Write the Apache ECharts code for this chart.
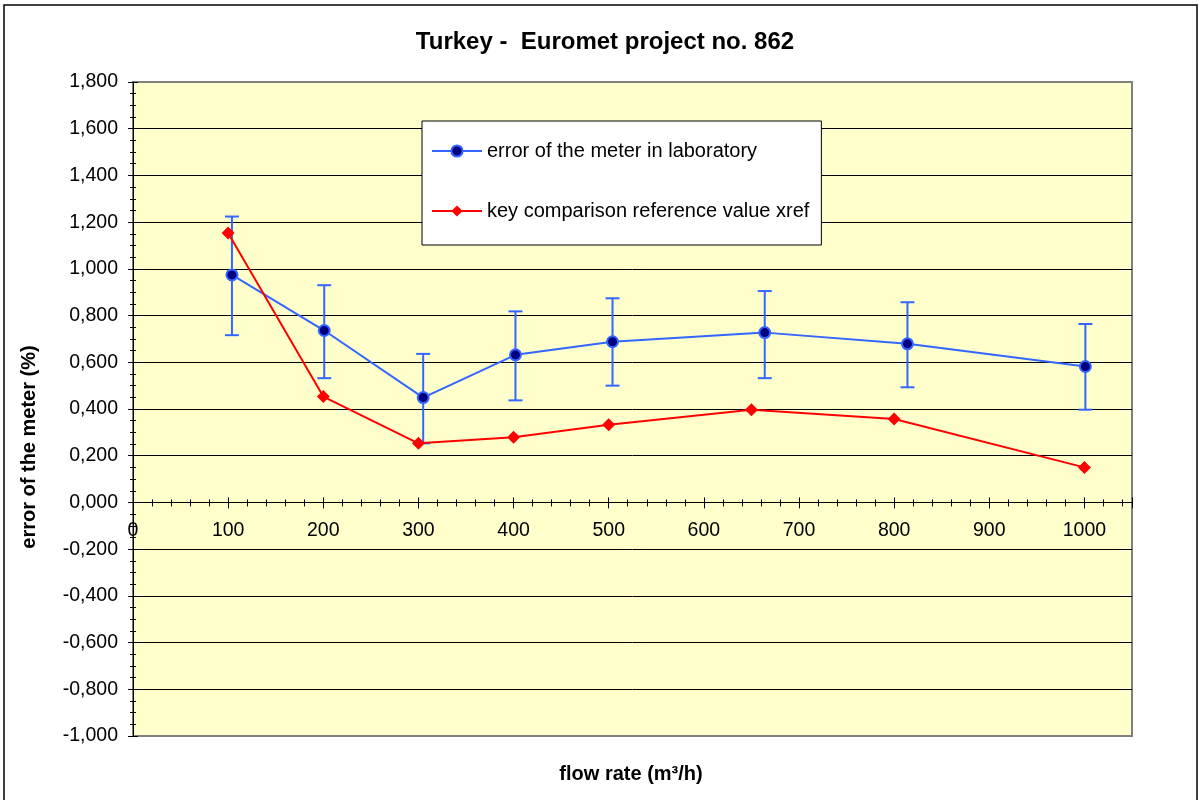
<!DOCTYPE html>
<html>
<head>
<meta charset="utf-8">
<title>Turkey - Euromet project no. 862</title>
<script src="https://cdn.jsdelivr.net/npm/echarts@6/dist/echarts.min.js"></script>
<style>
  html, body { margin: 0; padding: 0; background: #fff; }
  #chart { width: 1199px; height: 800px; }
</style>
</head>
<body>
<div id="chart"></div>
<script>
// flow rate (m3/h) and errors (%)
var labFlow = [104, 201, 305, 402, 504, 664, 814, 1001];
var labError = [0.974, 0.736, 0.449, 0.632, 0.688, 0.727, 0.679, 0.582];
var labHigh = [1.224, 0.930, 0.636, 0.818, 0.874, 0.905, 0.857, 0.764];
var labLow = [0.716, 0.532, 0.253, 0.437, 0.500, 0.532, 0.493, 0.397];

var refFlow = [100, 200, 300, 400, 500, 650, 800, 1000];
var refValue = [1.154, 0.453, 0.253, 0.279, 0.333, 0.397, 0.357, 0.150];

var seriesNames = ['error of the meter in laboratory', 'key comparison reference value xref'];

var font = 'Liberation Sans, Arial, sans-serif';
var blue = '#3366FF';
var red = '#FF0000';

var yMin = -1, yMax = 1.8;
var gridTop = 82, gridHeight = 654;
// the x axis sits on y = 0, not on the bottom of the plot
var zeroOffset = -gridHeight * (0 - yMin) / (yMax - yMin);

var labPoints = labFlow.map(function (x, i) { return [x, labError[i]]; });
var refPoints = refFlow.map(function (x, i) { return [x, refValue[i]]; });
var barPoints = labFlow.map(function (x, i) { return [x, labLow[i], labHigh[i]]; });

// error bars with caps
function renderErrorBar(params, api) {
  var x = api.value(0);
  var lo = api.coord([x, api.value(1)]);
  var hi = api.coord([x, api.value(2)]);
  var cap = 7;
  var style = { stroke: blue, lineWidth: 2 };
  return {
    type: 'group',
    children: [
      { type: 'line', shape: { x1: hi[0], y1: hi[1], x2: lo[0], y2: lo[1] }, style: style },
      { type: 'line', shape: { x1: hi[0] - cap, y1: hi[1], x2: hi[0] + cap, y2: hi[1] }, style: style },
      { type: 'line', shape: { x1: lo[0] - cap, y1: lo[1], x2: lo[0] + cap, y2: lo[1] }, style: style }
    ]
  };
}

function commaLabel(v) {
  return v.toFixed(3).replace('.', ',');
}

var chart = echarts.init(document.getElementById('chart'));

// two axes per direction so the ticks cross the axis line like in Excel
var xBase = { type: 'value', min: 0, max: 1050, interval: 100, position: 'bottom', offset: zeroOffset };
var yBase = { type: 'value', min: yMin, max: yMax, interval: 0.2, position: 'left' };

chart.setOption({
  animation: false,
  textStyle: { fontFamily: font, color: '#000' },
  title: {
    text: 'Turkey -  Euromet project no. 862',
    left: 600,
    top: 37,
    textAlign: 'center',
    textVerticalAlign: 'middle',
    textStyle: { fontFamily: font, fontSize: 24, fontWeight: 'bold', color: '#000' }
  },
  grid: {
    left: 133,
    top: gridTop,
    width: 999,
    height: gridHeight,
    show: true,
    backgroundColor: '#FFFFCC',
    borderColor: '#808080',
    borderWidth: 2,
    outerBoundsMode: 'none'
  },
  legend: {
    data: seriesNames,
    orient: 'vertical',
    left: 422,
    top: 121,
    padding: [20, 12, 24, 9],
    itemGap: 40,
    itemWidth: 50,
    itemHeight: 14,
    backgroundColor: '#fff',
    borderColor: '#000',
    borderWidth: 1,
    borderRadius: 0,
    textStyle: { fontFamily: font, fontSize: 20, color: '#000' }
  },
  xAxis: [
    Object.assign({}, xBase, {
      axisLine: { show: true, onZero: false, lineStyle: { color: '#000', width: 1 } },
      axisTick: { show: true, length: 6, lineStyle: { color: '#000' } },
      minorTick: { show: true, splitNumber: 5, length: 4, lineStyle: { color: '#000' } },
      axisLabel: { fontSize: 19.5, color: '#000', margin: 18, showMaxLabel: false, formatter: function (v) { return String(v); } },
      splitLine: { show: false }
    }),
    Object.assign({}, xBase, {
      axisLine: { show: false, onZero: false },
      axisTick: { show: true, inside: true, length: 5, lineStyle: { color: '#000' } },
      minorTick: { show: true, splitNumber: 5, length: 3, lineStyle: { color: '#000' } },
      axisLabel: { show: false },
      splitLine: { show: false }
    })
  ],
  yAxis: [
    Object.assign({}, yBase, {
      axisLine: { show: true, onZero: false, lineStyle: { color: '#000', width: 1 } },
      axisTick: { show: true, length: 5, lineStyle: { color: '#000' } },
      minorTick: { show: true, splitNumber: 4, length: 3, lineStyle: { color: '#000' } },
      axisLabel: { fontSize: 19.5, color: '#000', margin: 15, formatter: commaLabel },
      splitLine: { show: true, showMinLine: false, showMaxLine: false, lineStyle: { color: '#000', width: 1 } }
    }),
    Object.assign({}, yBase, {
      axisLine: { show: false, onZero: false },
      axisTick: { show: true, inside: true, length: 5, lineStyle: { color: '#000' } },
      minorTick: { show: true, splitNumber: 4, length: 3, lineStyle: { color: '#000' } },
      axisLabel: { show: false },
      splitLine: { show: false }
    })
  ],
  graphic: [
    {
      type: 'rect',
      shape: { x: 4, y: 5, width: 1193, height: 805 },
      style: { fill: 'none', stroke: '#000', lineWidth: 1.5 },
      silent: true
    },
    {
      type: 'text',
      x: 631,
      y: 774,
      style: {
        text: 'flow rate (m³/h)',
        fontFamily: font, fontSize: 20, fontWeight: 'bold', fill: '#000',
        align: 'center', verticalAlign: 'middle'
      }
    },
    {
      type: 'text',
      x: 29,
      y: 447,
      rotation: Math.PI / 2,
      style: {
        text: 'error of the meter (%)',
        fontFamily: font, fontSize: 20, fontWeight: 'bold', fill: '#000',
        align: 'center', verticalAlign: 'middle'
      }
    }
  ],
  series: [
    {
      name: 'errorBars',
      type: 'custom',
      xAxisIndex: 0,
      yAxisIndex: 0,
      renderItem: renderErrorBar,
      encode: { x: 0, y: [1, 2] },
      data: barPoints,
      z: 2
    },
    {
      name: seriesNames[0],
      type: 'line',
      xAxisIndex: 0,
      yAxisIndex: 0,
      data: labPoints,
      symbol: 'circle',
      symbolSize: 11,
      lineStyle: { color: blue, width: 2 },
      itemStyle: { color: '#000080', borderColor: blue, borderWidth: 2 },
      z: 3
    },
    {
      name: seriesNames[1],
      type: 'line',
      xAxisIndex: 0,
      yAxisIndex: 0,
      data: refPoints,
      symbol: 'diamond',
      symbolSize: 13,
      lineStyle: { color: red, width: 2 },
      itemStyle: { color: red },
      z: 4
    }
  ]
});
</script>
</body>
</html>
